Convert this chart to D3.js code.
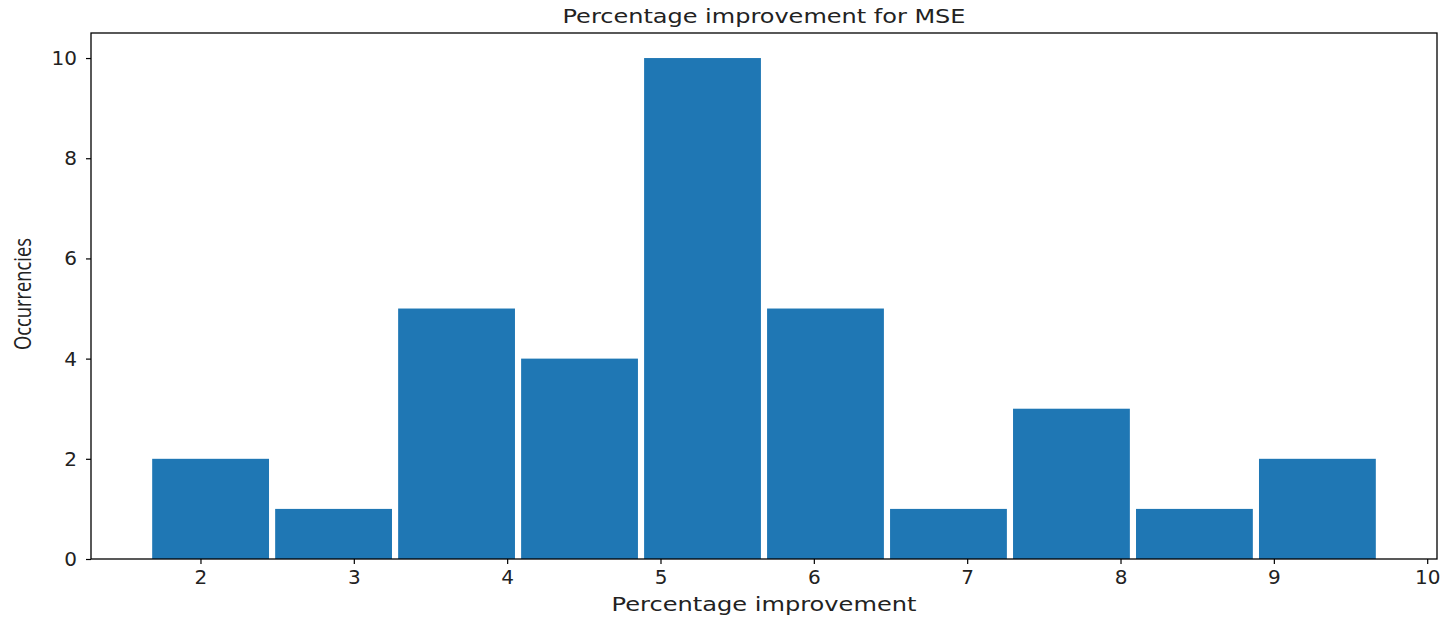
<!DOCTYPE html>
<html>
<head>
<meta charset="utf-8">
<script src="https://cdn.jsdelivr.net/npm/d3@7"></script>
<style>
  html, body { margin: 0; padding: 0; background: #fff; }
  svg { display: block; }
  text { font-family: "DejaVu Sans", sans-serif; fill: #222; }
</style>
</head>
<body>
<svg id="chart" width="1447" height="618"></svg>
<script>
// Histogram of percentage improvement for MSE
const binStart = 1.665;
const binWidth = 0.802;
const counts = [2, 1, 5, 4, 10, 5, 1, 3, 1, 2];
const xTicks = [2, 3, 4, 5, 6, 7, 8, 9, 10];
const yTicks = [0, 2, 4, 6, 8, 10];
const relWidth = 0.95;

const W = 1447, H = 618;
const margin = { left: 91, right: 10, top: 33, bottom: 59 };

const bins = counts.map((c, i) => ({
  x0: binStart + i * binWidth,
  x1: binStart + (i + 1) * binWidth,
  count: c
}));

const barLo = bins[0].x0 + binWidth * (1 - relWidth) / 2;
const barHi = bins[bins.length - 1].x1 - binWidth * (1 - relWidth) / 2;
const pad = (barHi - barLo) * 0.05;

const x = d3.scaleLinear()
  .domain([barLo - pad, barHi + pad])
  .range([margin.left, W - margin.right]);
const y = d3.scaleLinear()
  .domain([0, d3.max(counts) * 1.05])
  .range([H - margin.bottom, margin.top]);

const svg = d3.select("#chart");

// bars
svg.append("g").selectAll("rect")
  .data(bins)
  .join("rect")
  .attr("x", d => x(d.x0 + binWidth * (1 - relWidth) / 2))
  .attr("width", d => x(d.x0 + binWidth * (1 + relWidth) / 2) - x(d.x0 + binWidth * (1 - relWidth) / 2))
  .attr("y", d => y(d.count))
  .attr("height", d => y(0) - y(d.count))
  .attr("fill", "#1f77b4");

// axes
const xAxis = d3.axisBottom(x).tickValues(xTicks).tickSize(5).tickPadding(6).tickFormat(d3.format("d"));
const yAxis = d3.axisLeft(y).tickValues(yTicks).tickSize(5).tickPadding(9).tickFormat(d3.format("d"));

const gx = svg.append("g").attr("transform", `translate(0,${H - margin.bottom})`).call(xAxis);
const gy = svg.append("g").attr("transform", `translate(${margin.left},0)`).call(yAxis);
[gx, gy].forEach(g => {
  g.select(".domain").remove();
  g.selectAll(".tick line").attr("stroke", "#000").attr("stroke-width", 1.2);
  g.selectAll(".tick text").attr("font-family", "DejaVu Sans").attr("font-size", 20).attr("fill", "#222");
});

// frame
svg.append("rect")
  .attr("x", margin.left).attr("y", margin.top)
  .attr("width", W - margin.right - margin.left)
  .attr("height", H - margin.bottom - margin.top)
  .attr("fill", "none").attr("stroke", "#000").attr("stroke-width", 1.3);

// title and labels
const cx = (margin.left + W - margin.right) / 2;
svg.append("text")
  .attr("x", cx).attr("y", 23)
  .attr("text-anchor", "middle").attr("font-size", 20)
  .attr("textLength", 403)
  .attr("lengthAdjust", "spacingAndGlyphs")
  .text("Percentage improvement for MSE");

svg.append("text")
  .attr("x", cx).attr("y", 611)
  .attr("text-anchor", "middle").attr("font-size", 19)
  .attr("textLength", 305)
  .attr("lengthAdjust", "spacingAndGlyphs")
  .text("Percentage improvement");

svg.append("text")
  .attr("transform", `translate(31,294) rotate(-90)`)
  .attr("text-anchor", "middle")
  .attr("font-size", 23)
  .attr("textLength", 112)
  .attr("lengthAdjust", "spacingAndGlyphs")
  .style("font-family", "'Open Sans', sans-serif")
  .text("Occurrencies");
</script>
</body>
</html>
